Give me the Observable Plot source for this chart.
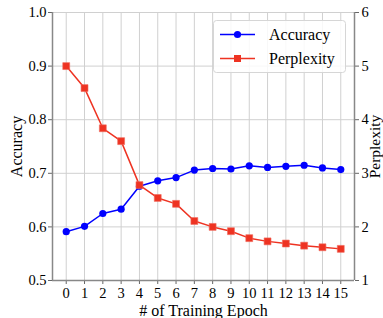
<!DOCTYPE html>
<html>
<head>
<meta charset="utf-8">
<script src="https://cdn.jsdelivr.net/npm/d3@7"></script>
<script src="https://cdn.jsdelivr.net/npm/@observablehq/plot@0.6"></script>
<style>
  html, body { margin: 0; padding: 0; background: white; }
  #chart { width: 383px; height: 318px; }
  #chart svg, #chart svg text, #chart svg g { font-family: "Liberation Serif", "Times New Roman", serif !important; }
</style>
</head>
<body>
<div id="chart"></div>
<script>
const epochs = [0, 1, 2, 3, 4, 5, 6, 7, 8, 9, 10, 11, 12, 13, 14, 15];
const accuracy = [0.591, 0.601, 0.625, 0.633, 0.676, 0.686, 0.692, 0.706, 0.709, 0.708, 0.714, 0.711, 0.713, 0.715, 0.710, 0.707];
const perplexity = [5.00, 4.59, 3.84, 3.60, 2.78, 2.54, 2.43, 2.11, 2.00, 1.92, 1.79, 1.73, 1.69, 1.65, 1.62, 1.59];
const accTicks = [0.5, 0.6, 0.7, 0.8, 0.9, 1.0];
const pplTicks = [1, 2, 3, 4, 5, 6];
const seriesNames = ["Accuracy", "Perplexity"];
const xLabel = "# of Training Epoch";

const blue = "#0000ff";
const red = "#ee3322";
const font = "'Liberation Serif', 'Times New Roman', serif";

// map perplexity [1,6] onto accuracy scale [0.5,1.0]
const pplToAcc = p => 0.5 + (p - 1) * 0.1;
const accToPpl = a => Math.round((a - 0.5) * 10 + 1);

const accData = epochs.map((e, i) => ({epoch: e, value: accuracy[i]}));
const pplData = epochs.map((e, i) => ({epoch: e, value: pplToAcc(perplexity[i])}));

const chart = Plot.plot({
  width: 383,
  height: 318,
  marginLeft: 52,
  marginRight: 29,
  marginTop: 12,
  marginBottom: 38,
  style: {fontFamily: font, fontSize: "14px", background: "white", color: "black"},
  x: {domain: [-0.75, 15.75]},
  y: {domain: [0.5, 1.0]},
  marks: [
    Plot.gridX(epochs, {stroke: "#d0d0d0", strokeOpacity: 1, strokeWidth: 1}),
    Plot.gridY(accTicks, {stroke: "#d0d0d0", strokeOpacity: 1, strokeWidth: 1}),
    Plot.axisX(epochs, {tickSize: 4, tickPadding: 3, stroke: "#666", fill: "black", label: null, fontSize: 14.5, fontFamily: font, tickFormat: d => String(d)}),
    Plot.axisY(accTicks, {anchor: "left", tickSize: 4, tickPadding: 2, stroke: "#666", fill: "black", label: null, fontSize: 14.5, fontFamily: font, tickFormat: d => d.toFixed(1)}),
    Plot.axisY(accTicks, {anchor: "right", tickSize: 4, tickPadding: 3, stroke: "#666", fill: "black", label: null, fontSize: 14.5, fontFamily: font, tickFormat: d => String(accToPpl(d))}),
    Plot.ruleX([-0.75, 15.75], {stroke: "#888", strokeWidth: 1.5}),
    Plot.ruleY([0.5], {stroke: "#888", strokeWidth: 1.5}),
    Plot.line(accData, {x: "epoch", y: "value", stroke: blue, strokeWidth: 1.5}),
    Plot.dot(accData, {x: "epoch", y: "value", fill: blue, r: 3.6, symbol: "circle"}),
    Plot.line(pplData, {x: "epoch", y: "value", stroke: red, strokeWidth: 1.5}),
    Plot.dot(pplData, {x: "epoch", y: "value", fill: red, stroke: "#f06a5c", strokeWidth: 0.6, r: 3.9, symbol: "square"}),
    Plot.text([seriesNames[0]], {frameAnchor: "left", dx: -36, rotate: -90, text: d => d, fontSize: 16, lineAnchor: "middle", textAnchor: "middle", fill: "black"}),
    Plot.text([seriesNames[1]], {frameAnchor: "right", dx: 21, rotate: -90, text: d => d, fontSize: 15.5, lineAnchor: "middle", textAnchor: "middle", fill: "black"}),
    Plot.text([xLabel], {frameAnchor: "bottom", dy: 30, text: d => d, fontSize: 16, lineAnchor: "middle", textAnchor: "middle", fill: "black"})
  ]
});

// Legend drawn into the SVG
const svg = d3.select(chart);
const lg = svg.append("g").attr("font-size", 16).attr("text-anchor", "start");
lg.append("rect").attr("x", 213.5).attr("y", 20.5).attr("width", 132).attr("height", 52)
  .attr("rx", 3).attr("fill", "white").attr("fill-opacity", 0.85).attr("stroke", "#d6d6d6");
const entries = [
  {name: seriesNames[0], color: blue, y: 34.5, sym: "circle"},
  {name: seriesNames[1], color: red, y: 58.5, sym: "square"}
];
for (const e of entries) {
  lg.append("line").attr("x1", 220).attr("x2", 255).attr("y1", e.y).attr("y2", e.y)
    .attr("stroke", e.color).attr("stroke-width", 1.5);
  if (e.sym === "circle") {
    lg.append("circle").attr("cx", 237.5).attr("cy", e.y).attr("r", 3.6).attr("fill", e.color);
  } else {
    lg.append("rect").attr("x", 234).attr("y", e.y - 3.5).attr("width", 7).attr("height", 7).attr("fill", e.color);
  }
  lg.append("text").attr("x", 269).attr("y", e.y).attr("dy", "0.35em").attr("text-anchor", "start").attr("fill", "black").text(e.name);
}

document.getElementById("chart").appendChild(chart);
</script>
</body>
</html>
